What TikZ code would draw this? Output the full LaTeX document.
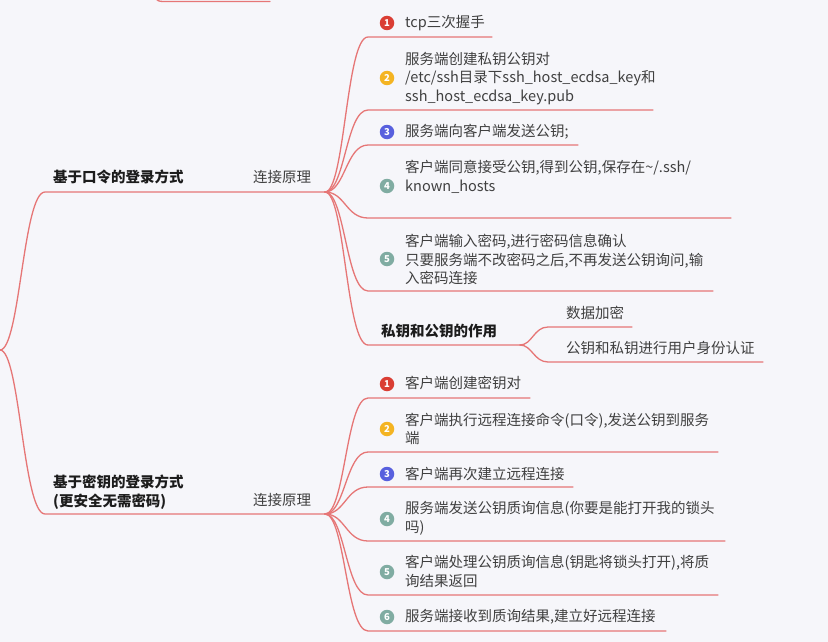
\documentclass[tikz,border=0pt]{standalone}
\usepackage{fontspec}
\setmainfont{Noto Sans CJK SC}
\usetikzlibrary{positioning}
\definecolor{branch}{RGB}{230,118,118}
\definecolor{paper}{RGB}{246,246,250}
\definecolor{ink}{RGB}{64,64,64}
\definecolor{inkdark}{RGB}{28,28,28}
\definecolor{no1}{RGB}{218,62,52}
\definecolor{no2}{RGB}{244,180,34}
\definecolor{no3}{RGB}{88,96,222}
\definecolor{no4}{RGB}{128,172,162}

\begin{document}
\begin{tikzpicture}[x=1pt, y=-1pt,
    topic/.style={anchor=west, inner sep=0pt, align=left, text=inkdark,
                  font=\fontsize{14.5}{18.5}\selectfont\bfseries},
    item/.style={anchor=west, inner sep=0pt, align=left, text=ink,
                 font=\fontsize{14.5}{18.5}\selectfont},
    badge/.style={circle, fill=#1, inner sep=0pt, minimum size=14.5pt, text=white,
                  font=\fontsize{9.5}{10}\selectfont\bfseries},
    link/.style={draw=branch, line width=1.3pt, line cap=round}]
  \fill[paper] (0,0) rectangle (828,642);
  \useasboundingbox (0,0) rectangle (828,642);

  % hubs and underline ends
  \coordinate (root) at (0,350);
  \coordinate (topA) at (151,-12); \coordinate (topB) at (163,1.5); \coordinate (topC) at (270,1.5);
  \coordinate (pwL) at (45,192);   \coordinate (pwHub) at (325,192);
  \coordinate (keyL) at (45,514);  \coordinate (keyHub) at (325,514);
  \coordinate (pw1s) at (368,37);  \coordinate (pw1e) at (492,37);
  \coordinate (pw2s) at (368,110); \coordinate (pw2e) at (653,110);
  \coordinate (pw3s) at (368,145); \coordinate (pw3e) at (578,145);
  \coordinate (pw4s) at (368,218); \coordinate (pw4e) at (731,218);
  \coordinate (pw5s) at (368,291); \coordinate (pw5e) at (713,291);
  \coordinate (roles) at (368,345); \coordinate (rolee) at (520,345);
  \coordinate (role1s) at (548,327); \coordinate (role1e) at (632,327);
  \coordinate (role2s) at (548,362); \coordinate (role2e) at (763,362);
  \coordinate (key1s) at (368,398); \coordinate (key1e) at (530,398);
  \coordinate (key2s) at (368,452); \coordinate (key2e) at (718,452);
  \coordinate (key3s) at (368,487); \coordinate (key3e) at (573,487);
  \coordinate (key4s) at (368,541); \coordinate (key4e) at (725,541);
  \coordinate (key5s) at (368,595); \coordinate (key5e) at (718,595);
  \coordinate (key6s) at (368,631); \coordinate (key6e) at (666,631);

  % branches
  \draw[link] (topA) .. controls +(3,9) and +(-8,0) .. (topB) -- (topC);
  \draw[link] (root) .. controls +(20,0) and +(-22,0) .. (pwL) -- (pwHub);
  \draw[link] (root) .. controls +(20,0) and +(-22,0) .. (keyL) -- (keyHub);
  \foreach \n in {pw1,pw2,pw3,pw4,pw5}
    \draw[link] (pwHub) .. controls +(20,0) and +(-22,0) .. (\n s) -- (\n e);
  \draw[link] (pwHub) .. controls +(20,0) and +(-22,0) .. (roles) -- (rolee);
  \draw[link] (rolee) .. controls +(12,0) and +(-14,0) .. (role1s) -- (role1e);
  \draw[link] (rolee) .. controls +(12,0) and +(-14,0) .. (role2s) -- (role2e);
  \foreach \n in {key1,key2,key3,key4,key5,key6}
    \draw[link] (keyHub) .. controls +(20,0) and +(-22,0) .. (\n s) -- (\n e);

  % password login
  \node[topic] (pwTitle) at (53,177) {基于口令的登录方式};
  \node[item] (pwHow) at (253,177) {连接原理};
  \node[badge=no1] (pw1b) at (387,23) {1};
  \node[item] (pw1) at (405,23) {tcp三次握手};
  \node[badge=no2] (pw2b) at (387,78) {2};
  \node[item] (pw2) at (405,78.5) {服务端创建私钥公钥对\\/etc/ssh目录下ssh\_host\_ecdsa\_key和\\ssh\_host\_ecdsa\_key.pub};
  \node[badge=no3] (pw3b) at (387,132) {3};
  \node[item] (pw3) at (405,132) {服务端向客户端发送公钥;};
  \node[badge=no4] (pw4b) at (387,186) {4};
  \node[item] (pw4) at (405,177) {客户端同意接受公钥,得到公钥,保存在\textasciitilde/.ssh/\\known\_hosts};
  \node[badge=no4] (pw5b) at (387,259) {5};
  \node[item] (pw5) at (405,259.5) {客户端输入密码,进行密码信息确认\\只要服务端不改密码之后,不再发送公钥询问,输\\入密码连接};
  \node[topic] (pwRole) at (381,331) {私钥和公钥的作用};
  \node[item] (pwRole1) at (566,313) {数据加密};
  \node[item] (pwRole2) at (566,348) {公钥和私钥进行用户身份认证};

  % key login
  \node[topic] (keyTitle) at (53,492) {基于密钥的登录方式\\(更安全无需密码)};
  \node[item] (keyHow) at (253,500) {连接原理};
  \node[badge=no1] (key1b) at (387,384) {1};
  \node[item] (key1) at (405,383) {客户端创建密钥对};
  \node[badge=no2] (key2b) at (387,429) {2};
  \node[item] (key2) at (405,429) {客户端执行远程连接命令(口令),发送公钥到服务\\端};
  \node[badge=no3] (key3b) at (387,474) {3};
  \node[item] (key3) at (405,474) {客户端再次建立远程连接};
  \node[badge=no4] (key4b) at (387,519) {4};
  \node[item] (key4) at (405,518.5) {服务端发送公钥质询信息(你要是能打开我的锁头\\吗)};
  \node[badge=no4] (key5b) at (387,572) {5};
  \node[item] (key5) at (405,571.5) {客户端处理公钥质询信息(钥匙将锁头打开),将质\\询结果返回};
  \node[badge=no4] (key6b) at (387,617) {6};
  \node[item] (key6) at (405,617) {服务端接收到质询结果,建立好远程连接};
\end{tikzpicture}
\end{document}
